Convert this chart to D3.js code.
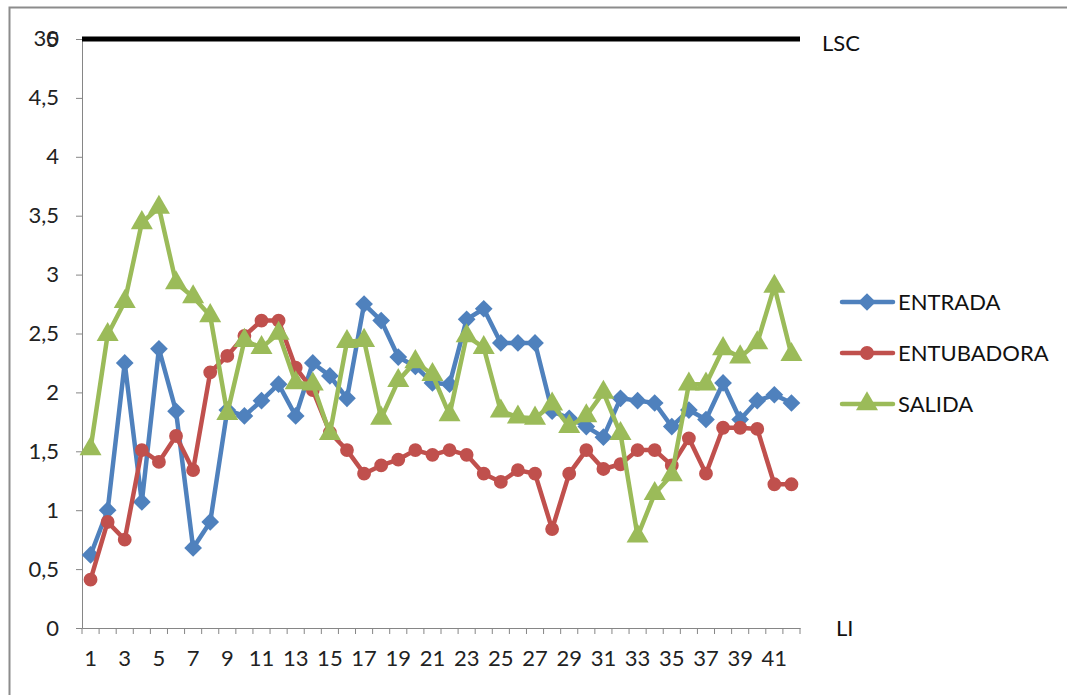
<!DOCTYPE html>
<html>
<head>
<meta charset="utf-8">
<script src="https://cdn.jsdelivr.net/npm/d3@7"></script>
<style>
  html, body { margin: 0; padding: 0; background: #fff; }
  svg { display: block; font-family: Lato, "Open Sans", sans-serif; }
</style>
</head>
<body>
<svg id="chart" width="1067" height="695"></svg>
<script>
// Measurement index (1..42)
const categories = d3.range(1, 43);

const entrada = [0.62, 1.0, 2.25, 1.07, 2.37, 1.84, 0.68, 0.9, 1.85, 1.8,
  1.93, 2.07, 1.8, 2.25, 2.14, 1.95, 2.75, 2.61, 2.3, 2.22,
  2.08, 2.07, 2.62, 2.71, 2.42, 2.42, 2.42, 1.84, 1.78, 1.71,
  1.62, 1.95, 1.93, 1.91, 1.71, 1.85, 1.77, 2.08, 1.77, 1.93,
  1.98, 1.91];

const entubadora = [0.41, 0.9, 0.75, 1.51, 1.41, 1.63, 1.34, 2.17, 2.31, 2.48,
  2.61, 2.61, 2.21, 2.02, 1.66, 1.51, 1.31, 1.38, 1.43, 1.51,
  1.47, 1.51, 1.47, 1.31, 1.24, 1.34, 1.31, 0.84, 1.31, 1.51,
  1.35, 1.39, 1.51, 1.51, 1.38, 1.61, 1.31, 1.7, 1.7, 1.69,
  1.22, 1.22];

const salida = [1.52, 2.49, 2.77, 3.44, 3.57, 2.93, 2.81, 2.65, 1.82, 2.44,
  2.38, 2.5, 2.08, 2.07, 1.65, 2.43, 2.44, 1.78, 2.1, 2.26,
  2.15, 1.81, 2.48, 2.38, 1.84, 1.79, 1.78, 1.9, 1.71, 1.8,
  2.0, 1.65, 0.78, 1.14, 1.3, 2.07, 2.07, 2.37, 2.3, 2.42,
  2.9, 2.32];

const yTicks = [0, 0.5, 1, 1.5, 2, 2.5, 3, 3.5, 4, 4.5, 5];
const lsc = 5;   // upper control limit
const li = 0;    // lower limit

const series = [
  { name: "ENTRADA", values: entrada, color: "#4F81BD", marker: "diamond" },
  { name: "ENTUBADORA", values: entubadora, color: "#C0504D", marker: "circle" },
  { name: "SALIDA", values: salida, color: "#9BBB59", marker: "triangle" }
];

const svg = d3.select("#chart");
const axisColor = "#868686";
const fontSize = 22;

// Outer frame of the chart object
svg.append("path")
  .attr("d", "M1067,7.5 H9.5 V695")
  .attr("fill", "none")
  .attr("stroke", "#8c8c8c")
  .attr("stroke-width", 2);

const x = d3.scaleBand().domain(categories).range([82, 800]).padding(0);
const y = d3.scaleLinear().domain([0, 5]).range([628, 39]);
const cx = d => x(d) + x.bandwidth() / 2;

// Y axis
const yAxis = svg.append("g")
  .attr("transform", "translate(82,0)")
  .call(d3.axisLeft(y).tickValues(yTicks).tickSize(6).tickPadding(17)
    .tickFormat(d => String(d).replace(".", ",")));
yAxis.select(".domain").attr("stroke", axisColor);
yAxis.selectAll(".tick line").attr("stroke", axisColor);
yAxis.selectAll(".tick text")
  .attr("font-size", fontSize).attr("fill", "#222").attr("font-family", "Lato");

// Secondary label that sits on top of the "5"
svg.append("text")
  .attr("x", 82 - 6 - 17).attr("y", y(5)).attr("dy", "0.32em")
  .attr("text-anchor", "end")
  .attr("font-size", fontSize).attr("fill", "#222")
  .text("30");

// X axis
const xAxis = svg.append("g")
  .attr("transform", "translate(0,628)")
  .call(d3.axisBottom(x).tickSize(0).tickPadding(22)
    .tickFormat(d => (d % 2 === 1 ? d : "")));
xAxis.select(".domain").attr("stroke", axisColor);
xAxis.selectAll(".tick text")
  .attr("font-size", fontSize).attr("fill", "#222").attr("font-family", "Lato");

// Tick marks at category boundaries
xAxis.selectAll("line.boundary")
  .data(d3.range(categories.length + 1))
  .join("line")
  .attr("class", "boundary")
  .attr("x1", i => x.range()[0] + i * x.step())
  .attr("x2", i => x.range()[0] + i * x.step())
  .attr("y1", 0).attr("y2", 6)
  .attr("stroke", axisColor);

// LSC line
svg.append("line")
  .attr("x1", 82).attr("x2", 800)
  .attr("y1", y(lsc)).attr("y2", y(lsc))
  .attr("stroke", "#000").attr("stroke-width", 5);

svg.append("text")
  .attr("x", 822).attr("y", y(lsc) + 4).attr("dy", "0.35em")
  .attr("font-size", fontSize).attr("fill", "#111")
  .text("LSC");

svg.append("text")
  .attr("x", 836).attr("y", y(li)).attr("dy", "0.35em")
  .attr("font-size", fontSize).attr("fill", "#111")
  .text("LI");

// Marker symbols
const symbolFor = {
  diamond: d3.symbol().type(d3.symbolDiamond2).size(200),
  circle: d3.symbol().type(d3.symbolCircle).size(150),
  triangle: d3.symbol().type(d3.symbolTriangle).size(210)
};

const line = d3.line().x((d, i) => cx(categories[i])).y(d => y(d));

series.forEach(s => {
  const g = svg.append("g");
  g.append("path")
    .attr("d", line(s.values))
    .attr("fill", "none")
    .attr("stroke", s.color)
    .attr("stroke-width", 4.5)
    .attr("stroke-linejoin", "round");
  g.selectAll("path.mk")
    .data(s.values)
    .join("path")
    .attr("class", "mk")
    .attr("d", symbolFor[s.marker])
    .attr("transform", (d, i) => `translate(${cx(categories[i])},${y(d)})`)
    .attr("fill", s.color);
});

// Legend
const legend = svg.append("g");
series.forEach((s, i) => {
  const ly = 302 + i * 51;
  legend.append("line")
    .attr("x1", 842).attr("x2", 893).attr("y1", ly).attr("y2", ly)
    .attr("stroke", s.color).attr("stroke-width", 4.5).attr("stroke-linecap", "round");
  legend.append("path")
    .attr("d", symbolFor[s.marker])
    .attr("transform", `translate(867,${ly})`)
    .attr("fill", s.color);
  legend.append("text")
    .attr("x", 898).attr("y", ly).attr("dy", "0.35em")
    .attr("font-size", fontSize).attr("fill", "#111")
    .text(s.name);
});
</script>
</body>
</html>
